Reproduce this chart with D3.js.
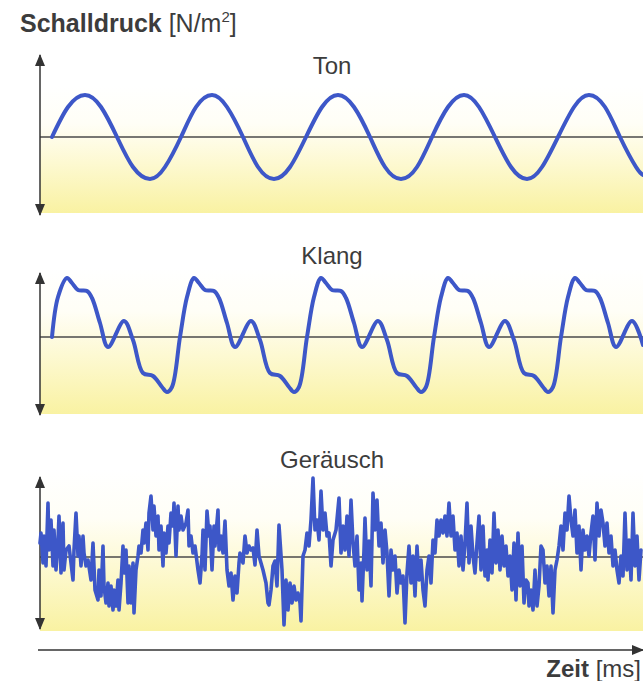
<!DOCTYPE html>
<html lang="de">
  <head>
    <meta charset="UTF-8" />
    <title>Schalldruck</title>
    <script src="https://cdn.jsdelivr.net/npm/d3@7/dist/d3.min.js"></script>
    <style>
      body { margin: 0; background: #fff; }
      text { font-family: "Liberation Sans", Arial, sans-serif; fill: #3c3c3c; }
    </style>
  </head>
  <body>
    <div id="wrapper"></div>
    <script>
      // time in arbitrary units (0..603), pressure in arbitrary units (Ton amplitude = 42)
      const panelNames = ["Ton", "Klang", "Geräusch"];

      const tonSamples = [
        [12,0],[28,30],[45,42],[61,30],[77,0],[93,-30],[110,-42],[125,-30],[141,0],
        [156,30],[172,42],[187,30],[203,0],[218,-30],[234,-42],[250,-30],[266,0],
        [282,30],[298,42],[314,30],[330,0],[345,-30],[361,-42],[377,-30],[392,0],
        [408,30],[424,42],[439,30],[455,0],[471,-30],[487,-42],[502,-30],[518,0],
        [534,30],[549,42],[565,30],[580,0],[596,-30],[603,-38]
      ];

      const klangSamples = [
        [12,0],[18,40],[27,59],[32,54],[38,47],[47,46],[52,39],[60,14],[68,-10],[84,16],[93,-3],
        [103,-36],[113,-39],[122,-50],[127,-55],[132,-50],[140,0],[147,40],
        [154,59],[159,54],[165,47],[174,46],[179,39],[187,14],[195,-10],[211,16],[220,-3],
        [230,-36],[240,-39],[249,-50],[254,-55],[259,-50],[267,0],[274,40],
        [281,59],[286,54],[292,47],[301,46],[306,39],[314,14],[322,-10],[338,16],[347,-3],
        [357,-36],[367,-39],[376,-50],[381,-55],[386,-50],[394,0],[401,40],
        [408,59],[413,54],[419,47],[428,46],[433,39],[441,14],[449,-10],[465,16],[474,-3],
        [484,-36],[494,-39],[503,-50],[508,-55],[513,-50],[521,0],[528,40],
        [535,59],[540,54],[546,47],[555,46],[560,39],[568,14],[576,-10],[592,16],[603,-8]
      ];

      const noiseSamples = [
        [0,14],[1,24],[3,-6],[4,21],[6,-9],[8,54],[9,7],[11,37],[13,-9],[14,27],[16,-13],[18,17],
        [19,41],[21,-16],[23,34],[24,-13],[26,7],[29,11],[31,-6],[33,-23],[34,7],[36,44],[38,1],
        [39,21],[41,-9],[43,21],[44,4],[46,-9],[48,-3],[51,-23],[53,14],[55,-33],[58,-43],[59,-13],
        [61,-39],[63,11],[64,-29],[66,-46],[68,-26],[69,-49],[71,-29],[73,-53],[74,-33],[76,-49],
        [78,-23],[79,-53],[81,-26],[83,11],[84,-16],[86,7],[88,-46],[89,-9],[91,-46],[93,-6],
        [94,-56],[96,-13],[98,1],[99,11],[101,4],[103,27],[104,14],[106,34],[108,7],[109,44],
        [111,61],[113,27],[114,51],[116,21],[118,41],[119,7],[121,31],[123,-9],[124,24],[126,4],
        [128,31],[129,14],[131,44],[133,31],[134,54],[136,1],[138,51],[139,27],[141,41],[143,27],
        [146,34],[148,47],[149,11],[151,21],[153,4],[155,11],[158,-13],[160,-26],[162,1],[163,27],
        [165,-13],[167,46],[169,21],[170,31],[172,-13],[174,31],[175,11],[178,47],[179,7],[181,21],
        [183,4],[185,36],[187,-13],[189,-29],[191,-16],[193,-43],[195,-19],[197,-36],[199,-6],
        [200,4],[203,-6],[205,21],[207,4],[209,11],[211,7],[213,9],[215,-8],[217,27],[219,1],
        [221,-6],[223,-13],[226,-26],[228,-46],[229,-48],[231,-33],[233,-9],[235,-4],[237,-29],
        [239,32],[240,17],[242,-13],[244,-68],[246,-23],[248,-53],[250,-26],[252,-46],[254,-29],
        [256,-43],[258,-36],[260,-46],[261,-64],[263,1],[265,7],[267,24],[269,11],[271,37],
        [273,79],[275,27],[277,37],[279,17],[281,66],[283,27],[285,44],[287,21],[289,24],[291,-9],
        [293,17],[296,27],[299,59],[301,4],[303,31],[305,7],[307,41],[309,1],[311,57],[313,14],
        [315,-9],[317,21],[319,-33],[321,-6],[322,-44],[324,7],[325,39],[327,-13],[329,16],
        [331,-29],[333,64],[335,27],[337,57],[339,11],[341,34],[343,-6],[345,27],[347,4],[349,-39],
        [351,7],[353,-13],[355,1],[357,-36],[359,-13],[361,-26],[363,-19],[365,-66],[367,-16],
        [369,11],[371,-26],[373,1],[375,-39],[377,11],[379,-23],[381,-3],[383,-33],[385,-49],
        [387,-13],[389,1],[391,-26],[393,17],[395,4],[397,37],[399,21],[401,37],[403,24],[405,41],
        [407,21],[409,54],[411,21],[413,41],[415,7],[417,24],[419,-9],[421,21],[423,-13],[425,14],
        [427,54],[429,-6],[431,31],[433,1],[435,-16],[437,14],[439,41],[441,-13],[443,31],
        [445,-19],[447,7],[448,-23],[450,17],[452,-16],[454,44],[456,-6],[458,27],[460,-13],
        [462,21],[464,-9],[466,11],[468,-19],[470,1],[472,-33],[474,14],[476,-43],[478,24],
        [480,-29],[482,11],[484,-46],[486,-23],[488,-26],[489,-49],[491,-33],[493,-53],[495,-13],
        [497,-49],[499,-29],[501,11],[503,7],[505,-26],[507,-9],[509,-39],[511,-9],[513,-56],
        [515,-13],[517,-3],[519,11],[521,31],[523,7],[525,44],[527,27],[529,61],[531,37],[533,21],
        [535,47],[537,4],[539,31],[541,-13],[543,27],[545,7],[547,21],[549,1],[551,24],[553,41],
        [555,-3],[557,54],[559,21],[561,47],[563,34],[565,11],[567,34],[569,4],[571,21],[573,-9],
        [575,7],[577,-13],[579,-26],[581,1],[583,-19],[585,44],[587,-13],[589,17],[591,-23],
        [593,44],[595,-9],[597,21],[599,-23],[601,7]
      ];

      const dimensions = { width: 643, height: 681, left: 40, right: 643 };

      const panels = [
        { name: panelNames[0], data: tonSamples, base: 137, top: 55, bottom: 215, bgTop: 86, bgBottom: 213, labelY: 74, curve: d3.curveNatural, stroke: 4 },
        { name: panelNames[1], data: klangSamples, base: 337, top: 273, bottom: 415, bgTop: 268, bgBottom: 414, labelY: 264, curve: d3.curveCatmullRom.alpha(0.5), stroke: 4 },
        { name: panelNames[2], data: noiseSamples, base: 557, top: 477, bottom: 629, bgTop: 470, bgBottom: 631, labelY: 468, curve: d3.curveLinear, stroke: 3.6 }
      ];

      const svg = d3.select("#wrapper").append("svg")
        .attr("width", dimensions.width)
        .attr("height", dimensions.height);

      const defs = svg.append("defs");
      const grad = defs.append("linearGradient")
        .attr("id", "bg").attr("x1", 0).attr("y1", 0).attr("x2", 0).attr("y2", 1);
      grad.append("stop").attr("offset", "0%").attr("stop-color", "#ffffff");
      grad.append("stop").attr("offset", "30%").attr("stop-color", "#fffef6");
      grad.append("stop").attr("offset", "60%").attr("stop-color", "#fdf9d2");
      grad.append("stop").attr("offset", "100%").attr("stop-color", "#f9f2a2");

      defs.append("marker")
        .attr("id", "arrow").attr("viewBox", "0 0 12 10")
        .attr("refX", 11).attr("refY", 5)
        .attr("markerWidth", 12).attr("markerHeight", 10)
        .attr("markerUnits", "userSpaceOnUse")
        .attr("orient", "auto-start-reverse")
        .append("path").attr("d", "M0,0 L12,5 L0,10 Z").attr("fill", "#333");

      const xScale = d3.scaleLinear().domain([0, 603]).range([dimensions.left, dimensions.right]);

      panels.forEach(p => {
        const yScale = d3.scaleLinear().domain([-90, 90]).range([p.base + 90, p.base - 90]);
        const g = svg.append("g");

        g.append("rect")
          .attr("x", dimensions.left).attr("width", dimensions.right - dimensions.left)
          .attr("y", p.bgTop).attr("height", p.bgBottom - p.bgTop)
          .attr("fill", "url(#bg)");

        g.append("line")
          .attr("x1", xScale(0)).attr("x2", xScale(603))
          .attr("y1", yScale(0)).attr("y2", yScale(0))
          .attr("stroke", "#4a4a4a").attr("stroke-width", 1.5);

        g.append("line")
          .attr("x1", xScale(0)).attr("x2", xScale(0))
          .attr("y1", p.top).attr("y2", p.bottom)
          .attr("stroke", "#333").attr("stroke-width", 1.5)
          .attr("marker-start", "url(#arrow)").attr("marker-end", "url(#arrow)");

        const line = d3.line()
          .x(d => xScale(d[0]))
          .y(d => yScale(d[1]))
          .curve(p.curve);

        g.append("path")
          .datum(p.data)
          .attr("d", line)
          .attr("fill", "none")
          .attr("stroke", "#3d57c8")
          .attr("stroke-width", p.stroke)
          .attr("stroke-linejoin", "round")
          .attr("stroke-linecap", "round");

        g.append("text")
          .attr("x", 332).attr("y", p.labelY)
          .attr("text-anchor", "middle")
          .attr("font-size", 24)
          .text(p.name);
      });

      // time axis
      svg.append("line")
        .attr("x1", 38).attr("x2", dimensions.width)
        .attr("y1", 650).attr("y2", 650)
        .attr("stroke", "#333").attr("stroke-width", 1.5)
        .attr("marker-end", "url(#arrow)");

      const yTitle = svg.append("text").attr("x", 20).attr("y", 32).attr("font-size", 25);
      yTitle.append("tspan").attr("font-weight", "bold").text("Schalldruck ");
      yTitle.append("tspan").text("[N/m");
      yTitle.append("tspan").attr("font-size", 15).attr("dy", -10).text("2");
      yTitle.append("tspan").attr("dy", 10).text("]");

      const xTitle = svg.append("text").attr("x", 641).attr("y", 677)
        .attr("text-anchor", "end").attr("font-size", 24);
      xTitle.append("tspan").attr("font-weight", "bold").text("Zeit ");
      xTitle.append("tspan").text("[ms]");
    </script>
  </body>
</html>
